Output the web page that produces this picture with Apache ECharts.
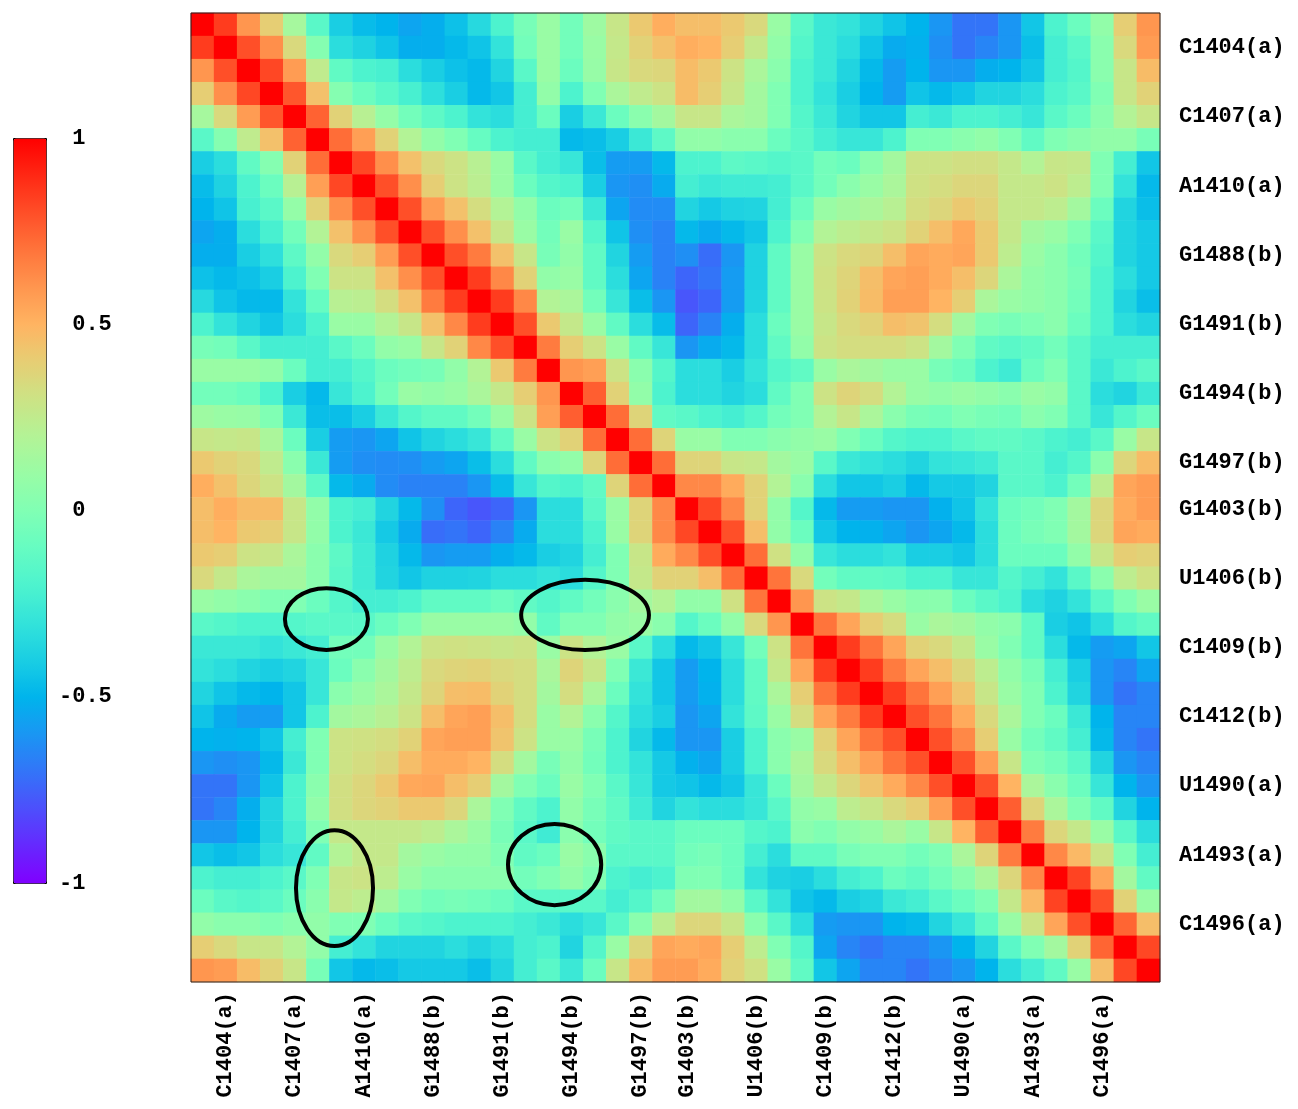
<!DOCTYPE html>
<html><head><meta charset="utf-8">
<script src="https://cdn.jsdelivr.net/npm/echarts@6/dist/echarts.min.js"></script>
<style>html,body{margin:0;padding:0;background:#fff}#c{width:1298px;height:1109px}</style>
</head><body><div id="c"></div>
<script>
// ---- categories ----
const residuesLow  = ['G1403','C1404','G1405','U1406','C1407','A1408','C1409','A1410','C1411','C1412'];
const residuesHigh = ['G1488','U1489','U1490','G1491','A1492','A1493','G1494','U1495','C1496','G1497','U1498'];
const categories = [].concat(
  residuesLow.map(r => r + '(a)'),
  residuesHigh.map(r => r + '(b)'),
  residuesLow.map(r => r + '(b)'),
  residuesHigh.map(r => r + '(a)')
);
const shownLabels = ['C1404(a)','C1407(a)','A1410(a)','G1488(b)','G1491(b)','G1494(b)','G1497(b)',
  'G1403(b)','U1406(b)','C1409(b)','C1412(b)','U1490(a)','A1493(a)','C1496(a)'];
const colorbarTicks = [-1, -0.5, 0, 0.5, 1];

// ---- correlation values: upper triangle, row i holds columns i..41 ----
const corrUpper = [
 [1,0.85,0.6,0.4,0.15,-0.15,-0.4,-0.47,-0.5,-0.55,-0.52,-0.45,-0.35,-0.2, -0.03,0.1,-0.05,0.12,0.28,0.42,0.52,0.46,0.46,0.42,0.35,0.1,-0.15,-0.27, -0.3,-0.37,-0.44,-0.5,-0.6,-0.7,-0.7,-0.6,-0.43,-0.2,-0.08,0.07,0.4,0.6],
 [1,0.8,0.62,0.35,0.02,-0.33,-0.38,-0.44,-0.52,-0.52,-0.48,-0.44,-0.3, -0.05,0.1,-0.05,0.1,0.27,0.38,0.45,0.52,0.5,0.4,0.27,0.07,-0.17,-0.27, -0.33,-0.44,-0.53,-0.51,-0.62,-0.7,-0.65,-0.6,-0.46,-0.23,-0.15,0.04,0.35,0.58],
 [1,0.82,0.58,0.25,-0.12,-0.2,-0.22,-0.33,-0.4,-0.45,-0.48,-0.37, -0.15,0.1,-0.08,0.09,0.28,0.35,0.36,0.47,0.42,0.3,0.17,0.04,-0.2,-0.27, -0.37,-0.48,-0.58,-0.5,-0.6,-0.6,-0.52,-0.5,-0.43,-0.23,-0.17,0.04,0.28,0.47],
 [1,0.78,0.45,0.02,-0.08,-0.15,-0.22,-0.32,-0.4,-0.48,-0.43, -0.23,0.07,-0.2,0.0,0.17,0.25,0.3,0.47,0.4,0.28,0.14,0.0,-0.2,-0.3, -0.4,-0.5,-0.58,-0.44,-0.48,-0.44,-0.37,-0.37,-0.33,-0.2,-0.15,0.0,0.28,0.38],
 [1,0.75,0.38,0.22,0.08,-0.05,-0.13,-0.2,-0.3,-0.33, -0.23,-0.08,-0.4,-0.27,-0.08,0.04,0.14,0.28,0.28,0.17,0.14,0.0,-0.17,-0.27, -0.37,-0.43,-0.43,-0.23,-0.27,-0.2,-0.2,-0.23,-0.28,-0.15,-0.08,0.04,0.2,0.28],
 [1,0.72,0.57,0.38,0.2,0.07,0.0,-0.1,-0.2, -0.23,-0.23,-0.48,-0.46,-0.4,-0.27,-0.13,0.07,0.07,0.04,0.04,-0.08,-0.15,-0.23, -0.28,-0.28,-0.2,0.0,0.0,0.04,0.07,0.0,-0.12,0.0,0.04,0.07,0.07,-0.03],
 [1,0.82,0.62,0.45,0.35,0.3,0.22,0.1, -0.15,-0.23,-0.28,-0.46,-0.58,-0.58,-0.48,-0.2,-0.2,-0.13,-0.15,-0.17,-0.15,-0.05, -0.08,0.04,0.14,0.3,0.3,0.32,0.32,0.27,0.2,0.28,0.27,0.0,-0.23,-0.43],
 [1,0.8,0.62,0.4,0.3,0.23,0.1, -0.08,-0.17,-0.2,-0.4,-0.6,-0.62,-0.53,-0.23,-0.27,-0.25,-0.25,-0.23,-0.15,-0.05, 0.04,0.1,0.17,0.31,0.33,0.36,0.36,0.27,0.27,0.3,0.24,0.0,-0.3,-0.48],
 [1,0.8,0.58,0.45,0.33,0.2, 0.07,-0.08,-0.05,-0.27,-0.55,-0.63,-0.63,-0.37,-0.42,-0.38,-0.37,-0.23,-0.08,0.1, 0.14,0.17,0.22,0.33,0.36,0.42,0.38,0.27,0.27,0.24,0.14,-0.08,-0.37,-0.46],
 [1,0.8,0.62,0.45,0.28, 0.1,-0.05,0.1,-0.17,-0.44,-0.62,-0.66,-0.48,-0.53,-0.48,-0.43,-0.2,0.0,0.2, 0.24,0.27,0.3,0.38,0.46,0.54,0.42,0.27,0.14,0.1,0.0,-0.15,-0.37,-0.42],
 [1,0.8,0.68,0.45, 0.28,-0.03,0.07,-0.12,-0.37,-0.58,-0.66,-0.62,-0.72,-0.6,-0.38,-0.12,0.1,0.3, 0.35,0.37,0.46,0.55,0.53,0.55,0.42,0.24,0.1,0.04,-0.05,-0.17,-0.37,-0.42],
 [1,0.85,0.64, 0.38,0.07,0.1,-0.12,-0.33,-0.55,-0.66,-0.74,-0.7,-0.58,-0.38,-0.12,0.1,0.31, 0.37,0.46,0.55,0.57,0.53,0.46,0.36,0.17,0.07,0.04,-0.03,-0.2,-0.33,-0.42],
 [1,0.85, 0.64,0.2,0.17,-0.05,-0.28,-0.46,-0.6,-0.78,-0.74,-0.58,-0.37,-0.12,0.1,0.3, 0.38,0.47,0.57,0.57,0.5,0.4,0.17,0.1,0.07,0.04,-0.05,-0.2,-0.37,-0.46],
 [1, 0.8,0.42,0.27,0.1,-0.12,-0.33,-0.47,-0.74,-0.66,-0.52,-0.33,-0.08,0.1,0.28, 0.35,0.38,0.46,0.44,0.33,0.14,0.0,-0.03,0.0,0.04,-0.08,-0.2,-0.33,-0.37],
 [1,0.68,0.4,0.3,0.1,-0.12,-0.28,-0.6,-0.53,-0.48,-0.33,-0.12,0.07,0.3, 0.33,0.33,0.33,0.3,0.14,0.0,-0.12,-0.15,-0.12,-0.05,-0.15,-0.23,-0.23,-0.23],
 [1,0.6,0.57,0.3,0.04,-0.17,-0.33,-0.33,-0.4,-0.3,-0.17,-0.12,0.1, 0.17,0.14,0.1,0.1,-0.03,-0.08,-0.2,-0.25,-0.08,0.0,-0.15,-0.27,-0.2,-0.15],
 [1,0.76,0.38,0.07,-0.2,-0.33,-0.33,-0.37,-0.33,-0.12,0.0,0.3, 0.37,0.33,0.2,0.1,0.07,0.1,0.07,0.04,0.1,0.07,-0.15,-0.33,-0.37,-0.27],
 [1,0.72,0.37,-0.12,-0.15,-0.2,-0.23,-0.17,-0.05,0.0,0.2, 0.28,0.17,0.04,-0.03,-0.05,0.0,-0.03,-0.05,0.04,0.0,-0.15,-0.28,-0.17,-0.08],
 [1,0.72,0.37,0.1,0.1,0.0,0.0,0.04,0.07,0.1, 0.0,-0.08,-0.17,-0.2,-0.2,-0.15,-0.12,-0.12,-0.15,-0.2,-0.23,-0.15,0.1,0.28],
 [1,0.72,0.37,0.37,0.28,0.27,0.14,0.1,-0.15, -0.27,-0.3,-0.33,-0.37,-0.3,-0.28,-0.25,-0.15,-0.15,-0.23,-0.17,0.04,0.36,0.47],
 [1,0.64,0.64,0.53,0.38,0.2,0.04,-0.33, -0.43,-0.43,-0.4,-0.48,-0.42,-0.42,-0.37,-0.15,-0.15,-0.2,-0.05,0.24,0.55,0.58],
 [1,0.82,0.64,0.38,0.07,-0.17,-0.48, -0.58,-0.58,-0.6,-0.6,-0.51,-0.44,-0.3,-0.08,-0.05,0.0,0.14,0.36,0.53,0.58],
 [1,0.8,0.46,0.07,-0.08,-0.43, -0.5,-0.51,-0.55,-0.6,-0.55,-0.48,-0.33,-0.08,-0.03,0.0,0.14,0.36,0.55,0.53],
 [1,0.72,0.31,0.07,-0.28, -0.33,-0.33,-0.3,-0.4,-0.4,-0.43,-0.33,-0.08,-0.08,-0.08,0.07,0.28,0.4,0.38],
 [1,0.7,0.35,-0.05, -0.12,-0.12,-0.13,-0.2,-0.2,-0.28,-0.28,-0.17,-0.23,-0.3,-0.15,0.04,0.24,0.31],
 [1,0.6,0.3, 0.27,0.17,0.1,0.04,0.04,-0.08,-0.15,-0.2,-0.33,-0.38,-0.3,-0.15,0.0,0.1],
 [1,0.7, 0.55,0.4,0.33,0.1,0.17,0.14,0.07,0.04,-0.12,-0.4,-0.44,-0.33,-0.17,-0.12],
 [1, 0.85,0.7,0.55,0.38,0.35,0.27,0.1,0.0,-0.12,-0.33,-0.48,-0.58,-0.55,-0.43],
 [1,0.85,0.68,0.55,0.46,0.36,0.24,0.07,-0.03,-0.23,-0.4,-0.6,-0.65,-0.55],
 [1,0.85,0.7,0.57,0.44,0.28,0.1,0.0,-0.2,-0.37,-0.6,-0.7,-0.65],
 [1,0.8,0.7,0.53,0.35,0.17,0.0,-0.08,-0.27,-0.5,-0.65,-0.65],
 [1,0.8,0.64,0.4,0.1,-0.05,-0.12,-0.23,-0.48,-0.65,-0.7],
 [1,0.8,0.57,0.28,0.0,-0.05,-0.15,-0.37,-0.6,-0.65],
 [1,0.8,0.5,0.17,0.04,-0.08,-0.28,-0.5,-0.6],
 [1,0.76,0.37,0.17,0.0,-0.12,-0.37,-0.5],
 [1,0.68,0.36,0.27,0.1,-0.15,-0.33],
 [1,0.64,0.48,0.3,0.0,-0.23],
 [1,0.83,0.55,0.14,-0.12],
 [1,0.8,0.38,0.1],
 [1,0.74,0.46],
 [1,0.82],
 [1]
];

// rainbow colour stops from -1 to 1
const rainbowStops = ['#8000ff','#6628fe','#4d4ffc','#3374f8','#1a96f3','#00b4ec','#1acee3','#33e3da',
  '#4df3ce','#66fcc2','#80ffb4','#99fca5','#b3f396','#cce385','#e6ce74','#ffb462','#ff964f',
  '#ff743b','#ff4f28','#ff2814','#ff0000'];

// ellipse annotations in cell units (x from left edge, y from top edge)
const ellipses = [
  {cx: 5.87, cy: 26.27, rx: 1.80, ry: 1.34},
  {cx: 17.08, cy: 26.09, rx: 2.77, ry: 1.52},
  {cx: 6.22, cy: 37.93, rx: 1.67, ry: 2.51},
  {cx: 15.76, cy: 36.91, rx: 2.02, ry: 1.76}
];

(function () {
  const n = categories.length;
  const heatData = [];
  for (let i = 0; i < n; i++) {
    for (let j = i; j < n; j++) {
      const v = corrUpper[i][j - i];
      heatData.push([j, i, v]);
      if (j !== i) heatData.push([i, j, v]);
    }
  }

  const FONT = "'Liberation Mono', 'DejaVu Sans Mono', monospace";
  const labelStyle = {fontFamily: FONT, fontWeight: 'bold', fontSize: 22, color: '#000'};

  const chart = echarts.init(document.getElementById('c'), null, {renderer: 'canvas'});
  chart.setOption({
    animation: false,
    backgroundColor: '#fff',
    grid: [
      {left: 191, top: 13, width: 969, height: 969, show: true, borderColor: '#222', borderWidth: 1, backgroundColor: 'transparent', z: 5},
      {left: 13, top: 138, width: 33, height: 745}
    ],
    xAxis: [
      {type: 'category', data: categories, gridIndex: 0, position: 'bottom',
       axisLine: {show: false}, axisTick: {show: false}, splitLine: {show: false},
       axisLabel: Object.assign({rotate: 90, margin: 10, interval: (idx, val) => shownLabels.indexOf(val) >= 0}, labelStyle)},
      {type: 'value', gridIndex: 1, show: false, min: 0, max: 1}
    ],
    yAxis: [
      {type: 'category', data: categories, gridIndex: 0, inverse: true, position: 'right',
       axisLine: {show: false}, axisTick: {show: false}, splitLine: {show: false},
       axisLabel: Object.assign({margin: 19, interval: (idx, val) => shownLabels.indexOf(val) >= 0}, labelStyle)},
      {type: 'value', gridIndex: 1, min: colorbarTicks[0], max: colorbarTicks[colorbarTicks.length - 1], interval: 0.5,
       position: 'right', axisLine: {show: false}, axisTick: {show: false}, splitLine: {show: false},
       axisLabel: Object.assign({margin: 13, formatter: v => (v < 0 ? '' : ' ') + v}, labelStyle)}
    ],
    visualMap: {
      type: 'continuous', min: -1, max: 1, seriesIndex: 0, calculable: false,
      orient: 'vertical', left: 13, top: 138, itemWidth: 33, itemHeight: 745,
      padding: 0, borderColor: '#000', borderWidth: 1, showLabel: false,
      inRange: {color: rainbowStops}
    },
    series: [{
      type: 'heatmap', xAxisIndex: 0, yAxisIndex: 0, data: heatData,
      itemStyle: {borderWidth: 0},
      emphasis: {disabled: true}, progressive: 0
    }]
  });

  // annotation ellipses positioned through the axes
  const p0 = chart.convertToPixel({xAxisIndex: 0, yAxisIndex: 0}, [0, 0]);
  const p1 = chart.convertToPixel({xAxisIndex: 0, yAxisIndex: 0}, [n - 1, n - 1]);
  const cw = (p1[0] - p0[0]) / (n - 1);
  const chh = (p1[1] - p0[1]) / (n - 1);
  const gx = p0[0] - cw / 2, gy = p0[1] - chh / 2;
  chart.setOption({
    graphic: ellipses.map(e => ({
      type: 'ellipse', z: 100,
      shape: {cx: gx + e.cx * cw, cy: gy + e.cy * chh, rx: e.rx * cw, ry: e.ry * chh},
      style: {fill: null, stroke: '#000', lineWidth: 4}
    }))
  });
})();
</script>
</body></html>
